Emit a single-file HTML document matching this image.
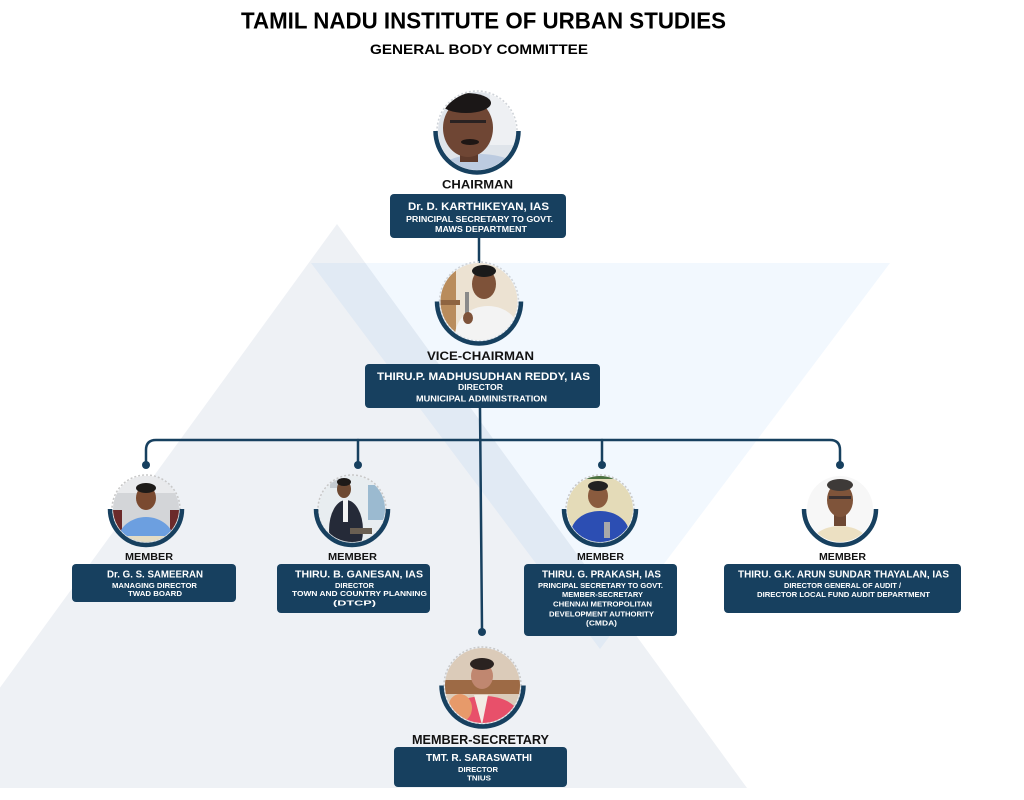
<!DOCTYPE html>
<html>
<head>
<meta charset="utf-8">
<style>
  html,body{margin:0;padding:0;background:#ffffff;}
  body{width:1024px;height:800px;overflow:hidden;}
  svg{display:block;}
  .t{font-family:"Liberation Sans",Arial,sans-serif;font-weight:bold;}
  .lbl{fill:#121212;}
  .w{fill:#ffffff;}
</style>
</head>
<body>
<svg width="1024" height="800" viewBox="0 0 1024 800" xmlns="http://www.w3.org/2000/svg">
  <defs>
    <clipPath id="cC"><circle cx="477" cy="131" r="39"/></clipPath>
    <clipPath id="cV"><circle cx="479" cy="301.5" r="38.5"/></clipPath>
    <clipPath id="c1"><circle cx="146" cy="509" r="33"/></clipPath>
    <clipPath id="c2"><circle cx="352" cy="509" r="33"/></clipPath>
    <clipPath id="c3"><circle cx="600" cy="509" r="33"/></clipPath>
    <clipPath id="c4"><circle cx="840" cy="509" r="33"/></clipPath>
    <clipPath id="cS"><circle cx="482.5" cy="685.5" r="37.5"/></clipPath>
  </defs>

  <!-- background -->
  <rect x="0" y="0" width="1024" height="800" fill="#ffffff"/>
  <polygon points="337,224 747,788 -73,788" fill="#eef1f5"/>
  <polygon points="311,263 890,263 600,649" fill="#f2f8fe" style="mix-blend-mode:multiply"/>

  <!-- title -->
  <text class="t" x="241" y="28.5" font-size="23" textLength="485" lengthAdjust="spacingAndGlyphs" fill="#000">TAMIL NADU INSTITUTE OF URBAN STUDIES</text>
  <text class="t" x="370" y="54" font-size="14" textLength="218" lengthAdjust="spacingAndGlyphs" fill="#000">GENERAL BODY COMMITTEE</text>

  <!-- connectors -->
  <g stroke="#17405f" stroke-width="2.5" fill="none" stroke-linecap="round">
    <line x1="479" y1="238" x2="479" y2="262"/>
    <line x1="480" y1="408" x2="482" y2="629"/>
    <path d="M146,462 V450 Q146,440 156,440 H830 Q840,440 840,450 V462"/>
    <line x1="358" y1="440" x2="358" y2="462"/>
    <line x1="602" y1="440" x2="602" y2="462"/>
  </g>
  <g fill="#17405f">
    <circle cx="146" cy="465" r="4"/>
    <circle cx="358" cy="465" r="4"/>
    <circle cx="602" cy="465" r="4"/>
    <circle cx="840" cy="465" r="4"/>
    <circle cx="482" cy="632" r="4"/>
  </g>

  <!-- ===== CHAIRMAN ===== -->
  <g clip-path="url(#cC)">
    <rect x="430" y="85" width="100" height="100" fill="#dfe4ea"/>
    <rect x="490" y="85" width="40" height="60" fill="#eef0f3"/>
    <ellipse cx="480" cy="178" rx="46" ry="24" fill="#bccbe0"/>
    <rect x="460" y="148" width="18" height="14" fill="#5e3a2b"/>
    <ellipse cx="468" cy="128" rx="25" ry="29" fill="#6f4634"/>
    <ellipse cx="466" cy="103" rx="25" ry="10" fill="#1b1717"/>
    <rect x="450" y="120" width="36" height="3" fill="#2a2222"/>
    <ellipse cx="470" cy="142" rx="9" ry="3" fill="#1e1614"/>
  </g>
  <circle cx="477" cy="131" r="40" fill="none" stroke="#cfd3d8" stroke-width="1.5" stroke-dasharray="2 2"/>
  <path d="M435.5,131 A41.5,41.5 0 0 0 518.5,131" fill="none" stroke="#17405f" stroke-width="4.5"/>
  <text class="t lbl" x="442" y="188.3" font-size="11.5" textLength="71" lengthAdjust="spacingAndGlyphs">CHAIRMAN</text>
  <rect x="390" y="194" width="176" height="44" rx="4" fill="#17405f"/>
  <text class="t w" x="408" y="210" font-size="11" textLength="141" lengthAdjust="spacingAndGlyphs">Dr. D. KARTHIKEYAN, IAS</text>
  <text class="t w" x="406" y="222" font-size="8" textLength="147" lengthAdjust="spacingAndGlyphs">PRINCIPAL SECRETARY TO GOVT.</text>
  <text class="t w" x="435" y="232" font-size="8" textLength="92" lengthAdjust="spacingAndGlyphs">MAWS DEPARTMENT</text>

  <!-- ===== VICE-CHAIRMAN ===== -->
  <g clip-path="url(#cV)">
    <rect x="435" y="258" width="90" height="90" fill="#ece2d2"/>
    <rect x="438" y="258" width="18" height="90" fill="#b98c5c"/>
    <rect x="438" y="300" width="22" height="5" fill="#8e6440"/>
    <ellipse cx="488" cy="336" rx="33" ry="30" fill="#f3f3f3"/>
    <ellipse cx="484" cy="284" rx="12" ry="15" fill="#7e5239"/>
    <ellipse cx="484" cy="271" rx="12" ry="6" fill="#1a1a1a"/>
    <rect x="465" y="292" width="4" height="26" fill="#8a8a8a"/>
    <ellipse cx="468" cy="318" rx="5" ry="6" fill="#7e5239"/>
  </g>
  <circle cx="479" cy="301.5" r="39.5" fill="none" stroke="#cfd3d8" stroke-width="1.5" stroke-dasharray="2 2"/>
  <path d="M437,301.5 A42,42 0 0 0 521,301.5" fill="none" stroke="#17405f" stroke-width="4.5"/>
  <text class="t lbl" x="427" y="360" font-size="12" textLength="107" lengthAdjust="spacingAndGlyphs">VICE-CHAIRMAN</text>
  <rect x="365" y="364" width="235" height="44" rx="4" fill="#17405f"/>
  <text class="t w" x="377" y="380" font-size="11" textLength="213" lengthAdjust="spacingAndGlyphs">THIRU.P. MADHUSUDHAN REDDY, IAS</text>
  <text class="t w" x="458" y="390" font-size="8" textLength="45" lengthAdjust="spacingAndGlyphs">DIRECTOR</text>
  <text class="t w" x="416" y="401.5" font-size="8" textLength="131" lengthAdjust="spacingAndGlyphs">MUNICIPAL ADMINISTRATION</text>

  <!-- ===== MEMBER 1 ===== -->
  <g clip-path="url(#c1)">
    <rect x="110" y="473" width="72" height="72" fill="#d3d5d8"/>
    <rect x="110" y="473" width="72" height="20" fill="#e9eaec"/>
    <rect x="112" y="510" width="10" height="30" fill="#6b2a2a"/>
    <rect x="170" y="510" width="10" height="30" fill="#6b2a2a"/>
    <ellipse cx="146" cy="541" rx="28" ry="24" fill="#6c9fe0"/>
    <ellipse cx="146" cy="498" rx="10" ry="12" fill="#7a4a30"/>
    <ellipse cx="146" cy="488" rx="10" ry="5" fill="#1d1a18"/>
    <rect x="125" y="536" width="42" height="8" fill="#e4dcc4"/>
  </g>
  <circle cx="146" cy="509" r="34" fill="none" stroke="#c8c8c8" stroke-width="1.5" stroke-dasharray="2 2"/>
  <path d="M110,509 A36,36 0 0 0 182,509" fill="none" stroke="#17405f" stroke-width="4.5"/>
  <text class="t lbl" x="125" y="560" font-size="10.5" textLength="48" lengthAdjust="spacingAndGlyphs">MEMBER</text>
  <rect x="72" y="564" width="164" height="38" rx="4" fill="#17405f"/>
  <text class="t w" x="107" y="577.5" font-size="10.5" textLength="96" lengthAdjust="spacingAndGlyphs">Dr. G. S. SAMEERAN</text>
  <text class="t w" x="112" y="588" font-size="7.5" textLength="85" lengthAdjust="spacingAndGlyphs">MANAGING DIRECTOR</text>
  <text class="t w" x="128" y="596" font-size="7.5" textLength="54" lengthAdjust="spacingAndGlyphs">TWAD BOARD</text>

  <!-- ===== MEMBER 2 ===== -->
  <g clip-path="url(#c2)">
    <rect x="316" y="473" width="72" height="72" fill="#e8edf0"/>
    <rect x="368" y="485" width="20" height="35" fill="#9bbad0"/>
    <rect x="330" y="478" width="10" height="10" fill="#c5ccd2"/>
    <ellipse cx="346" cy="530" rx="17" ry="30" fill="#252a38"/>
    <rect x="343" y="500" width="5" height="22" fill="#f2f2f2"/>
    <ellipse cx="344" cy="489" rx="7" ry="9" fill="#6e4a33"/>
    <ellipse cx="344" cy="482" rx="7" ry="4" fill="#1d1a18"/>
    <rect x="350" y="528" width="22" height="6" fill="#6a5f52"/>
  </g>
  <circle cx="352" cy="509" r="34" fill="none" stroke="#c8c8c8" stroke-width="1.5" stroke-dasharray="2 2"/>
  <path d="M316,509 A36,36 0 0 0 388,509" fill="none" stroke="#17405f" stroke-width="4.5"/>
  <text class="t lbl" x="328" y="560" font-size="10.5" textLength="49" lengthAdjust="spacingAndGlyphs">MEMBER</text>
  <rect x="277" y="564" width="153" height="49" rx="4" fill="#17405f"/>
  <text class="t w" x="295" y="577.7" font-size="10.5" textLength="128" lengthAdjust="spacingAndGlyphs">THIRU. B. GANESAN, IAS</text>
  <text class="t w" x="335" y="588" font-size="7.5" textLength="39" lengthAdjust="spacingAndGlyphs">DIRECTOR</text>
  <text class="t w" x="292" y="596" font-size="7.5" textLength="135" lengthAdjust="spacingAndGlyphs">TOWN AND COUNTRY PLANNING</text>
  <text class="t w" x="333" y="605.5" font-size="7.5" textLength="43" lengthAdjust="spacingAndGlyphs">(DTCP)</text>

  <!-- ===== MEMBER 3 ===== -->
  <g clip-path="url(#c3)">
    <rect x="564" y="473" width="72" height="72" fill="#e4dbb8"/>
    <rect x="564" y="473" width="72" height="6" fill="#4a7040"/>
    <ellipse cx="600" cy="533" rx="29" ry="22" fill="#2c4eb3"/>
    <ellipse cx="598" cy="496" rx="10" ry="12" fill="#8a5b3e"/>
    <ellipse cx="598" cy="486" rx="10" ry="5" fill="#222"/>
    <rect x="604" y="522" width="6" height="16" fill="#a9a9a9"/>
  </g>
  <circle cx="600" cy="509" r="34" fill="none" stroke="#c8c8c8" stroke-width="1.5" stroke-dasharray="2 2"/>
  <path d="M564,509 A36,36 0 0 0 636,509" fill="none" stroke="#17405f" stroke-width="4.5"/>
  <text class="t lbl" x="577" y="560" font-size="10.5" textLength="47" lengthAdjust="spacingAndGlyphs">MEMBER</text>
  <rect x="524" y="564" width="153" height="72" rx="4" fill="#17405f"/>
  <text class="t w" x="542" y="577.7" font-size="10.5" textLength="119" lengthAdjust="spacingAndGlyphs">THIRU. G. PRAKASH, IAS</text>
  <text class="t w" x="538" y="588" font-size="7.5" textLength="125" lengthAdjust="spacingAndGlyphs">PRINCIPAL SECRETARY TO GOVT.</text>
  <text class="t w" x="562" y="597" font-size="7.5" textLength="81" lengthAdjust="spacingAndGlyphs">MEMBER-SECRETARY</text>
  <text class="t w" x="553" y="606.7" font-size="7.5" textLength="99" lengthAdjust="spacingAndGlyphs">CHENNAI METROPOLITAN</text>
  <text class="t w" x="549" y="616.5" font-size="7.5" textLength="105" lengthAdjust="spacingAndGlyphs">DEVELOPMENT AUTHORITY</text>
  <text class="t w" x="586" y="625.5" font-size="7.5" textLength="31" lengthAdjust="spacingAndGlyphs">(CMDA)</text>

  <!-- ===== MEMBER 4 ===== -->
  <g clip-path="url(#c4)">
    <rect x="804" y="473" width="72" height="72" fill="#f7f7f7"/>
    <ellipse cx="840" cy="548" rx="31" ry="22" fill="#ece0c2"/>
    <rect x="834" y="512" width="12" height="14" fill="#6e4833"/>
    <ellipse cx="840" cy="500" rx="13" ry="17" fill="#7f543a"/>
    <ellipse cx="840" cy="485" rx="13" ry="6" fill="#3e3a38"/>
    <rect x="829" y="496" width="22" height="3" fill="#3a3030"/>
  </g>
  <path d="M804,509 A36,36 0 0 0 876,509" fill="none" stroke="#17405f" stroke-width="4.5"/>
  <text class="t lbl" x="819" y="560" font-size="10.5" textLength="47" lengthAdjust="spacingAndGlyphs">MEMBER</text>
  <rect x="724" y="564" width="237" height="49" rx="4" fill="#17405f"/>
  <text class="t w" x="738" y="577.7" font-size="10.5" textLength="211" lengthAdjust="spacingAndGlyphs">THIRU. G.K. ARUN SUNDAR THAYALAN, IAS</text>
  <text class="t w" x="784" y="588" font-size="7.5" textLength="117" lengthAdjust="spacingAndGlyphs">DIRECTOR GENERAL OF AUDIT /</text>
  <text class="t w" x="757" y="597" font-size="7.5" textLength="173" lengthAdjust="spacingAndGlyphs">DIRECTOR LOCAL FUND AUDIT DEPARTMENT</text>

  <!-- ===== MEMBER-SECRETARY ===== -->
  <g clip-path="url(#cS)">
    <rect x="444" y="647" width="78" height="78" fill="#dbcbb9"/>
    <rect x="445" y="680" width="76" height="14" fill="#9d6a45"/>
    <ellipse cx="484" cy="718" rx="36" ry="22" fill="#e8506a"/>
    <ellipse cx="460" cy="708" rx="12" ry="14" fill="#e79a6a"/>
    <path d="M474,695 L488,695 L482,725 Z" fill="#f2ece4"/>
    <ellipse cx="482" cy="676" rx="11" ry="13" fill="#c08770"/>
    <ellipse cx="482" cy="664" rx="12" ry="6" fill="#2a2220"/>
  </g>
  <circle cx="482.5" cy="685.5" r="38.5" fill="none" stroke="#c8c8c8" stroke-width="1.5" stroke-dasharray="2 2"/>
  <path d="M441.5,685.5 A41,41 0 0 0 523.5,685.5" fill="none" stroke="#17405f" stroke-width="4.5"/>
  <text class="t lbl" x="412" y="744" font-size="12.5" textLength="137" lengthAdjust="spacingAndGlyphs">MEMBER-SECRETARY</text>
  <rect x="394" y="747" width="173" height="40" rx="4" fill="#17405f"/>
  <text class="t w" x="426" y="761" font-size="10.5" textLength="106" lengthAdjust="spacingAndGlyphs">TMT. R. SARASWATHI</text>
  <text class="t w" x="458" y="772" font-size="7.5" textLength="40" lengthAdjust="spacingAndGlyphs">DIRECTOR</text>
  <text class="t w" x="467" y="780.7" font-size="7.5" textLength="24" lengthAdjust="spacingAndGlyphs">TNIUS</text>
</svg>
</body>
</html>
